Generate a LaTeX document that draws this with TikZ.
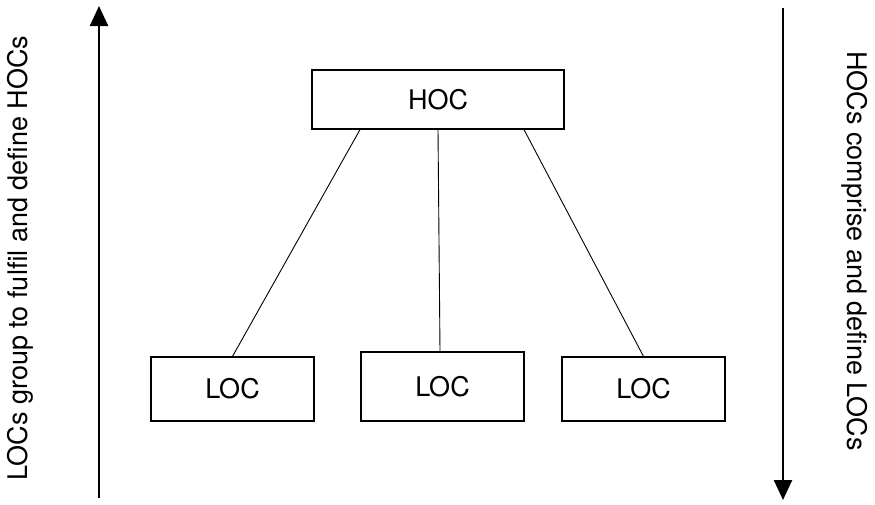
\documentclass[tikz,border=0pt]{standalone}
\usepackage{fontspec}
\setmainfont{TeX Gyre Heros}
\usetikzlibrary{arrows.meta}
\begin{document}
\begin{tikzpicture}[x=1pt,y=-1pt,
        concept/.style={draw,line width=1.2pt,inner sep=0pt,font=\fontsize{27}{32}\selectfont},
        link/.style={line width=0.9pt},
        flow/.style={line width=2.5pt,-{Triangle[length=20pt,width=18pt]}}]
                \useasboundingbox (0,0) rectangle (875,504);

                \node[concept,minimum width=252pt,minimum height=59pt] (hoc) at (438,99.5) {HOC};
                \node[concept,minimum width=163pt,minimum height=64pt] (locl) at (232.5,389) {LOC};
                \node[concept,minimum width=163pt,minimum height=69pt] (locm) at (442.5,386.5) {LOC};
                \node[concept,minimum width=163pt,minimum height=64pt] (locr) at (643.5,389) {LOC};

                \draw[link] ([xshift=-78pt]hoc.south) to (locl.north);
                \draw[link] (hoc.south) to ([xshift=-2.5pt]locm.north);
                \draw[link] ([xshift=86pt]hoc.south) to (locr.north);

                \coordinate (upfoot) at (99,498);
                \coordinate (uptip) at (99,6);
                \coordinate (downfoot) at (783,8);
                \coordinate (downtip) at (783,500);
                \draw[flow] (upfoot) to (uptip);
                \draw[flow] (downfoot) to (downtip);

                \node[rotate=90,font=\fontsize{27}{32}\selectfont] (uplabel) at (20,258) {LOCs group to fulfil and define HOCs};
                \node[rotate=-90,font=\fontsize{27}{32}\selectfont] (downlabel) at (855,251) {HOCs comprise and define LOCs};
            \end{tikzpicture}
\end{document}
